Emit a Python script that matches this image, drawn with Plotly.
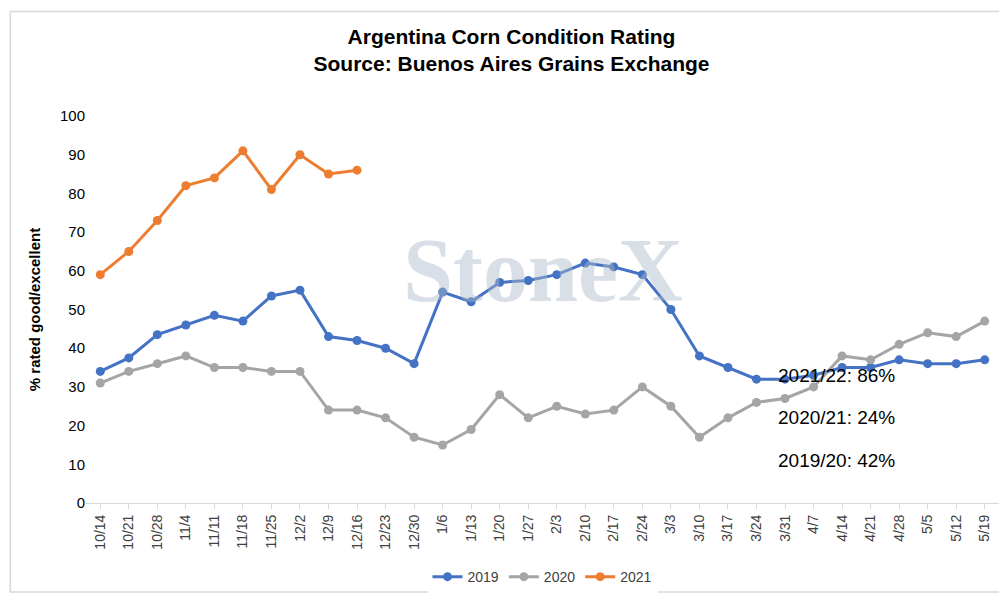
import plotly.graph_objects as go

weeks = ["10/14","10/21","10/28","11/4","11/11","11/18","11/25","12/2","12/9","12/16","12/23","12/30","1/6","1/13","1/20","1/27","2/3","2/10","2/17","2/24","3/3","3/10","3/17","3/24","3/31","4/7","4/14","4/21","4/28","5/5","5/12","5/19"]
s2019 = [34,37.5,43.5,46,48.5,47,53.5,55,43,42,40,36,54.5,52,57,57.5,59,62,61,59,50,38,35,32,32,33,35,35,37,36,36,37]
s2020 = [31,34,36,38,35,35,34,34,24,24,22,17,15,19,28,22,25,23,24,30,25,17,22,26,27,30,38,37,41,44,43,47]
s2021 = [59,65,73,82,84,91,81,90,85,86]
notes = ["2021/22: 86%", "2020/21: 24%", "2019/20: 42%"]

fig = go.Figure()
for name, ys, col in [("2019", s2019, "#4472C4"), ("2020", s2020, "#A5A5A5"), ("2021", s2021, "#ED7D31")]:
    fig.add_trace(go.Scatter(x=weeks[:len(ys)], y=ys, name=name, mode="lines+markers",
                             line=dict(color=col, width=3), marker=dict(size=9, color=col)))

fig.add_annotation(text="<b>StoneX</b>", x=0.5, y=0.6, xref="paper", yref="paper", showarrow=False,
                   font=dict(size=90, color="rgba(170,185,200,0.45)", family="Liberation Serif"))
for i, t in enumerate(notes):
    fig.add_annotation(text=t, xref="x", yref="y", x=25.8, y=[33, 22, 11][i], showarrow=False,
                       xanchor="center", font=dict(size=19, color="black", family="Liberation Sans"))

fig.add_shape(type="rect", xref="paper", yref="paper", x0=-0.083, x1=1.015, y0=-0.23, y1=1.27,
              line=dict(color="#D9D9D9", width=1.5))

fig.update_layout(
    width=1007, height=597, paper_bgcolor="white", plot_bgcolor="white",
    title=dict(text="<b>Argentina Corn Condition Rating<br>Source: Buenos Aires Grains Exchange</b>",
               x=0.5, y=0.94, font=dict(size=21, color="black", family="Liberation Sans")),
    font=dict(family="Liberation Sans", color="#404040", size=14),
    margin=dict(l=78, r=16, t=108, b=99),
    xaxis=dict(type="category", tickangle=-90, showgrid=False, showline=True, linecolor="#D9D9D9",
               ticks="outside", tickcolor="#D9D9D9", tickfont=dict(size=14, color="#404040"), range=[-0.5, 31.5]),
    yaxis=dict(range=[0, 100], dtick=10, showgrid=False, zeroline=False,
               title=dict(text="<b>% rated good/excellent</b>", font=dict(size=15, color="black")),
               tickfont=dict(size=15, color="black")),
    legend=dict(orientation="h", x=0.5, xanchor="center", y=-0.15, yanchor="top",
                font=dict(size=14, color="#404040")),
)
fig.write_html("out.html")
